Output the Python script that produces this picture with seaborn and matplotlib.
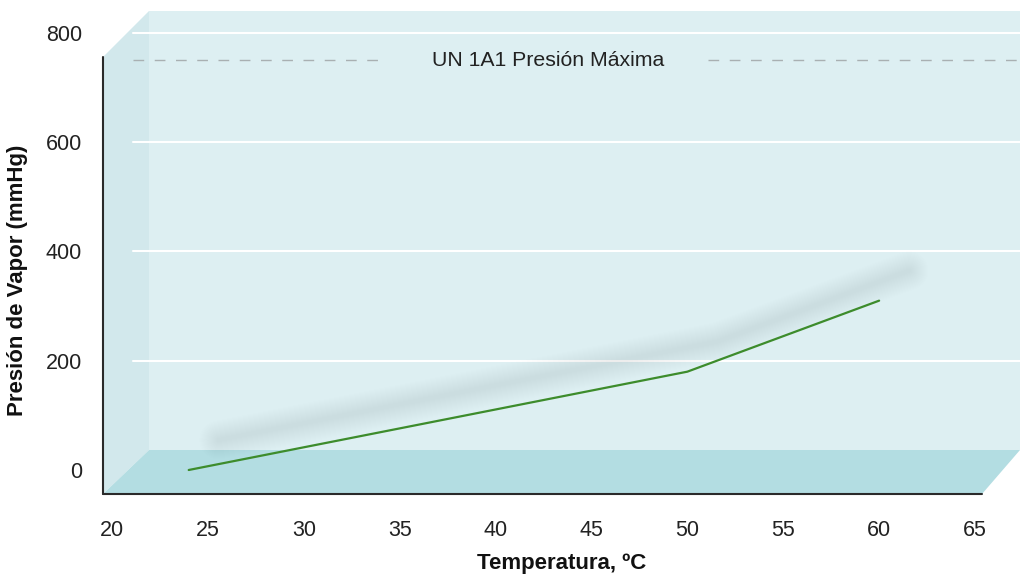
import matplotlib
matplotlib.use("Agg")
import numpy as np
import pandas as pd
import matplotlib.pyplot as plt
import matplotlib.transforms as mtransforms
from matplotlib.patches import Polygon
from matplotlib.lines import Line2D
import seaborn as sns

# ---- data ----
temperature = [24, 50, 60]
pressure = [0, 180, 310]
x_ticks = [20, 25, 30, 35, 40, 45, 50, 55, 60, 65]
y_ticks = [0, 200, 400, 600, 800]
un_limit = 750
limit_label = "UN 1A1 Presión Máxima"
x_label = "Temperatura, ºC"
y_label = "Presión de Vapor (mmHg)"

df = pd.DataFrame({"temp": temperature, "pres": pressure})

sns.set_theme(style="white")
plt.rcParams['font.family'] = ['Liberation Sans', 'DejaVu Sans']

W, H = 1022, 576
fig = plt.figure(figsize=(W / 100, H / 100), dpi=100)
L, R, T, B = 103, 1020, 11, 494
ax = fig.add_axes([L / W, (H - B) / H, (R - L) / W, (B - T) / H])
ax.set_facecolor("none")
ax.set_xlim(19.531, 67.346)
ax.set_ylim(-43.94, 840.27)


def f(x, y):
    return ((x - L) / (R - L), (B - y) / (B - T))


back = "#ddeff2"
leftw = "#d2e8ec"
floor = "#b3dde2"

ax.add_patch(Polygon([f(149, 11), f(1020, 11), f(1020, 450), f(149, 450)],
                     closed=True, transform=ax.transAxes, facecolor=back,
                     edgecolor="none", zorder=0, clip_on=False))
ax.add_patch(Polygon([f(103, 57), f(149, 11), f(149, 450), f(103, 494)],
                     closed=True, transform=ax.transAxes, facecolor=leftw,
                     edgecolor="none", zorder=0, clip_on=False))

gx0 = (133 - L) / (R - L)
for v in y_ticks:
    ax.axhline(v, xmin=gx0, xmax=1, color="white", lw=1.5, zorder=0.5)

ax.add_patch(Polygon([f(103, 494), f(149, 450), f(1020, 450), f(982, 494)],
                     closed=True, transform=ax.transAxes, facecolor=floor,
                     edgecolor="none", zorder=0.8, clip_on=False))

# dashed limit line with label
for a, b in [(133, 380), (708, 1020)]:
    ax.axhline(un_limit, xmin=(a - L) / (R - L), xmax=(b - L) / (R - L),
               color="#a9b0b2", lw=1.0, dashes=(7.7, 7.6), zorder=1)
blend = mtransforms.blended_transform_factory(ax.transAxes, ax.transData)
ax.text((548 - L) / (R - L), un_limit, limit_label, transform=blend,
        ha="center", va="center", fontsize=15.3, color="#222222", zorder=2)

# blurred shadow of the line
shadow_tr = ax.transData + mtransforms.ScaledTranslation(30 / 100, 30 / 100, fig.dpi_scale_trans)
for lw in np.linspace(28, 3, 18):
    ax.plot(temperature, pressure, transform=shadow_tr, color="#8a9396",
            lw=lw, alpha=0.005, solid_capstyle="round",
            solid_joinstyle="round", zorder=1)

sns.lineplot(data=df, x="temp", y="pres", ax=ax, color="#3d8c2c",
             linewidth=1.6, zorder=3)

# axes lines
ax.add_line(Line2D([0, 0], [f(0, 57)[1], 0], transform=ax.transAxes,
                   color="#2a2a2a", lw=1.5, clip_on=False, zorder=4))
ax.add_line(Line2D([0, f(982, 0)[0]], [0, 0], transform=ax.transAxes,
                   color="#2a2a2a", lw=1.5, clip_on=False, zorder=4))
for s in ax.spines.values():
    s.set_visible(False)

ax.set_xticks(x_ticks)
ax.set_yticks(y_ticks)
ax.tick_params(axis="both", length=0, labelsize=15.5, colors="#222222")
ax.tick_params(axis="x", pad=19)
ax.tick_params(axis="y", pad=15)

ax.set_xlabel(x_label, fontsize=16, fontweight="bold", color="#111111")
ax.set_ylabel(y_label, fontsize=16, fontweight="bold", color="#111111")
ax.xaxis.set_label_coords((562 - L) / (R - L), (B - 563) / (B - T))
ax.xaxis.label.set_va("center")
ax.yaxis.set_label_coords((18 - L) / (R - L), (B - 280) / (B - T))
ax.yaxis.label.set_va("center")

fig.savefig("out.png", dpi=100)
